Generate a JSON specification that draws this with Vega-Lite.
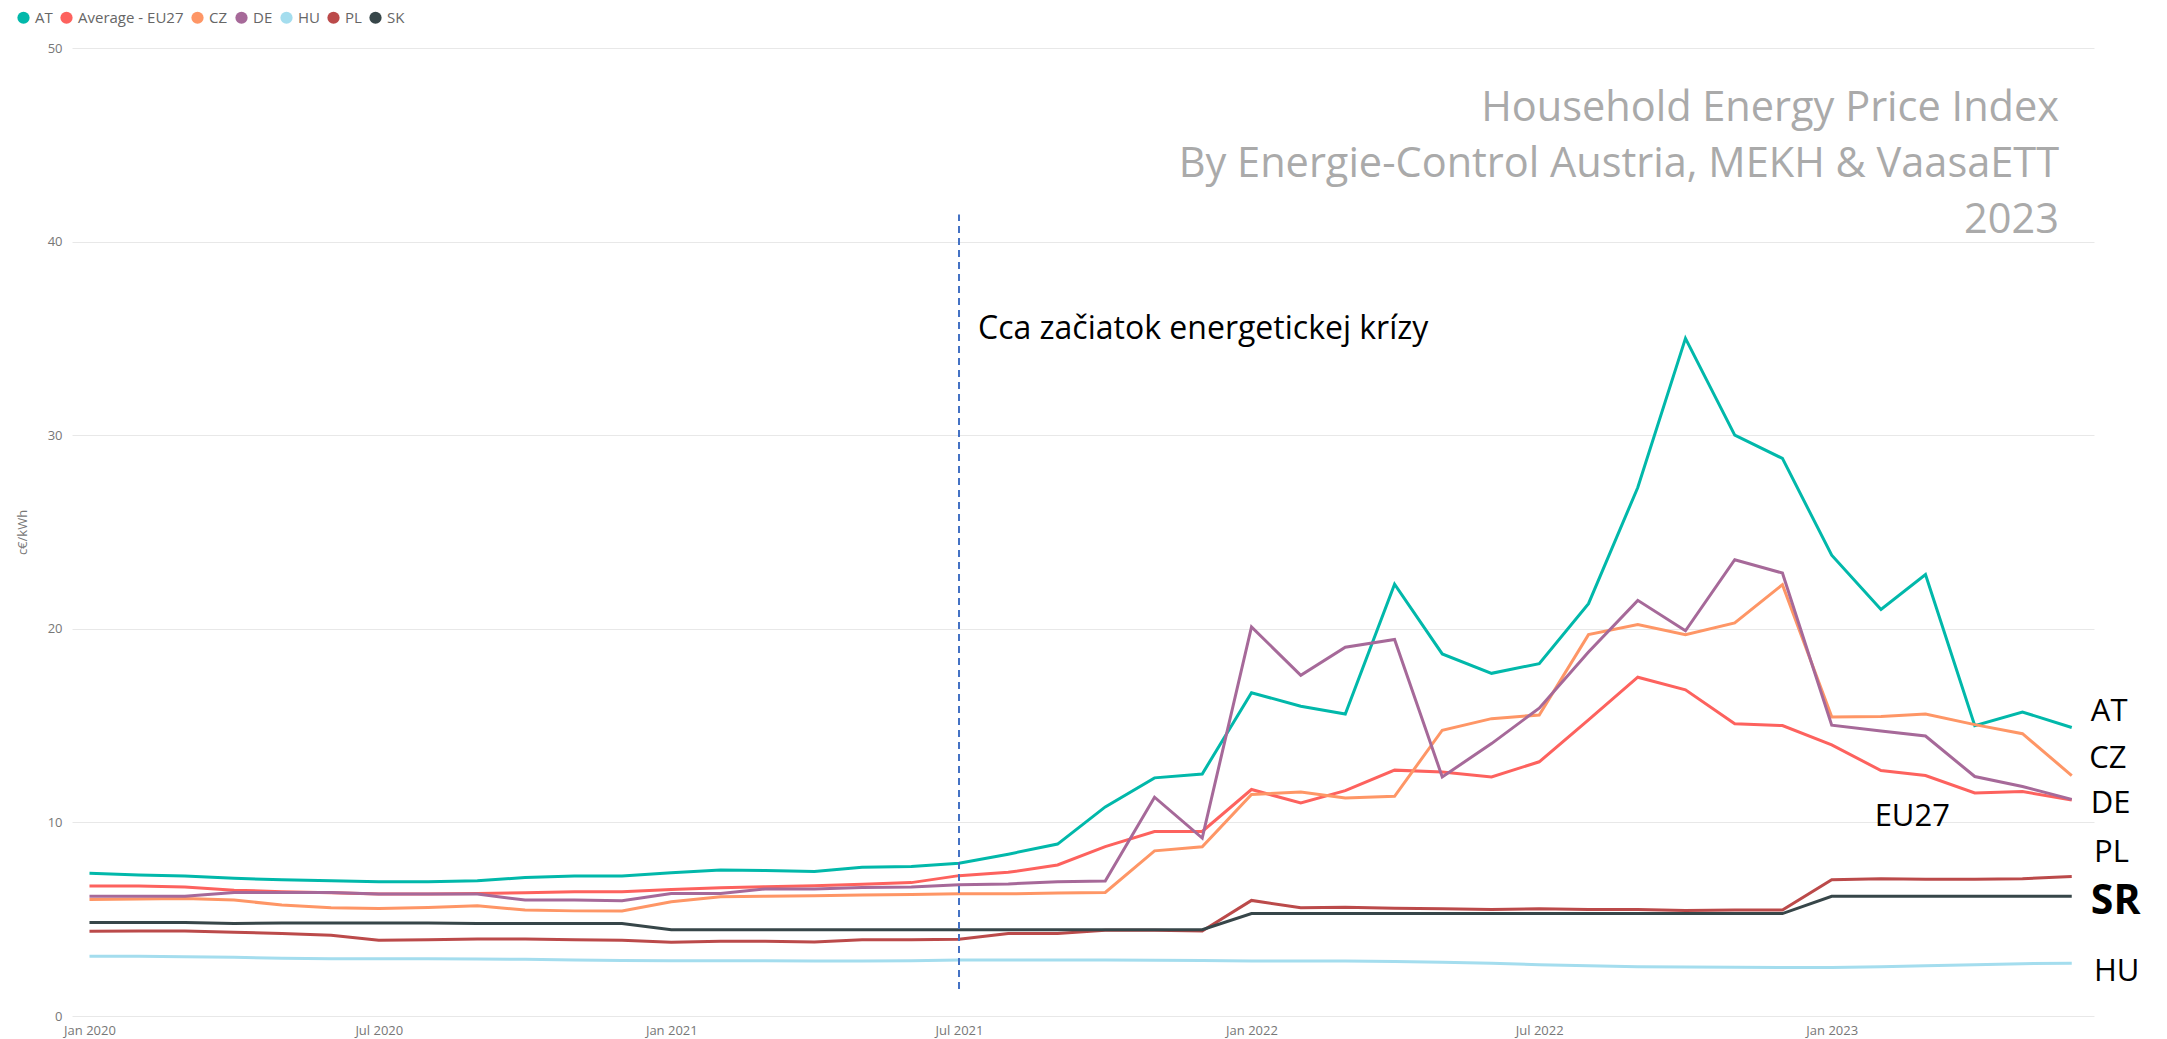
{
  "$schema": "https://vega.github.io/schema/vega-lite/v6.json",
  "width": 2022,
  "height": 968,
  "autosize": {"type": "none"},
  "padding": {"left": 72, "top": 48, "right": 73, "bottom": 23},
  "background": "white",
  "config": {"view": {"stroke": null}, "font": "Open Sans"},
  "title": {
    "text": ["Household Energy Price Index", "By Energie-Control Austria, MEKH & VaasaETT", "2023"],
    "anchor": "end",
    "orient": "top",
    "frame": "group",
    "baseline": "top",
    "offset": 0,
    "dx": -35,
    "dy": 231,
    "fontSize": 41.5,
    "fontWeight": "normal",
    "font": "Open Sans",
    "color": "#AAAAAA",
    "lineHeight": 56
  },
  "datasets": {
    "prices": [
      {"date":"2020-01-01","series":"AT","value":7.37},{"date":"2020-02-01","series":"AT","value":7.28},{"date":"2020-03-01","series":"AT","value":7.23},{"date":"2020-04-01","series":"AT","value":7.11},{"date":"2020-05-01","series":"AT","value":7.04},{"date":"2020-06-01","series":"AT","value":6.99},{"date":"2020-07-01","series":"AT","value":6.94},{"date":"2020-08-01","series":"AT","value":6.94},{"date":"2020-09-01","series":"AT","value":6.99},{"date":"2020-10-01","series":"AT","value":7.15},{"date":"2020-11-01","series":"AT","value":7.23},{"date":"2020-12-01","series":"AT","value":7.23},
      {"date":"2021-01-01","series":"AT","value":7.40},{"date":"2021-02-01","series":"AT","value":7.54},{"date":"2021-03-01","series":"AT","value":7.51},{"date":"2021-04-01","series":"AT","value":7.47},{"date":"2021-05-01","series":"AT","value":7.68},{"date":"2021-06-01","series":"AT","value":7.72},{"date":"2021-07-01","series":"AT","value":7.89},{"date":"2021-08-01","series":"AT","value":8.36},{"date":"2021-09-01","series":"AT","value":8.88},{"date":"2021-10-01","series":"AT","value":10.8},{"date":"2021-11-01","series":"AT","value":12.3},{"date":"2021-12-01","series":"AT","value":12.5},
      {"date":"2022-01-01","series":"AT","value":16.7},{"date":"2022-02-01","series":"AT","value":16.0},{"date":"2022-03-01","series":"AT","value":15.6},{"date":"2022-04-01","series":"AT","value":22.3},{"date":"2022-05-01","series":"AT","value":18.7},{"date":"2022-06-01","series":"AT","value":17.7},{"date":"2022-07-01","series":"AT","value":18.2},{"date":"2022-08-01","series":"AT","value":21.3},{"date":"2022-09-01","series":"AT","value":27.3},{"date":"2022-10-01","series":"AT","value":35.0},{"date":"2022-11-01","series":"AT","value":30.0},{"date":"2022-12-01","series":"AT","value":28.8},
      {"date":"2023-01-01","series":"AT","value":23.8},{"date":"2023-02-01","series":"AT","value":21.0},{"date":"2023-03-01","series":"AT","value":22.8},{"date":"2023-04-01","series":"AT","value":15.0},{"date":"2023-05-01","series":"AT","value":15.7},{"date":"2023-06-01","series":"AT","value":14.9},

      {"date":"2020-01-01","series":"Average - EU27","value":6.71},{"date":"2020-02-01","series":"Average - EU27","value":6.71},{"date":"2020-03-01","series":"Average - EU27","value":6.66},{"date":"2020-04-01","series":"Average - EU27","value":6.5},{"date":"2020-05-01","series":"Average - EU27","value":6.42},{"date":"2020-06-01","series":"Average - EU27","value":6.37},{"date":"2020-07-01","series":"Average - EU27","value":6.3},{"date":"2020-08-01","series":"Average - EU27","value":6.3},{"date":"2020-09-01","series":"Average - EU27","value":6.33},{"date":"2020-10-01","series":"Average - EU27","value":6.37},{"date":"2020-11-01","series":"Average - EU27","value":6.42},{"date":"2020-12-01","series":"Average - EU27","value":6.42},
      {"date":"2021-01-01","series":"Average - EU27","value":6.54},{"date":"2021-02-01","series":"Average - EU27","value":6.63},{"date":"2021-03-01","series":"Average - EU27","value":6.68},{"date":"2021-04-01","series":"Average - EU27","value":6.73},{"date":"2021-05-01","series":"Average - EU27","value":6.8},{"date":"2021-06-01","series":"Average - EU27","value":6.89},{"date":"2021-07-01","series":"Average - EU27","value":7.25},{"date":"2021-08-01","series":"Average - EU27","value":7.42},{"date":"2021-09-01","series":"Average - EU27","value":7.8},{"date":"2021-10-01","series":"Average - EU27","value":8.75},{"date":"2021-11-01","series":"Average - EU27","value":9.53},{"date":"2021-12-01","series":"Average - EU27","value":9.53},
      {"date":"2022-01-01","series":"Average - EU27","value":11.7},{"date":"2022-02-01","series":"Average - EU27","value":11.0},{"date":"2022-03-01","series":"Average - EU27","value":11.64},{"date":"2022-04-01","series":"Average - EU27","value":12.7},{"date":"2022-05-01","series":"Average - EU27","value":12.6},{"date":"2022-06-01","series":"Average - EU27","value":12.35},{"date":"2022-07-01","series":"Average - EU27","value":13.13},{"date":"2022-08-01","series":"Average - EU27","value":15.3},{"date":"2022-09-01","series":"Average - EU27","value":17.5},{"date":"2022-10-01","series":"Average - EU27","value":16.85},{"date":"2022-11-01","series":"Average - EU27","value":15.1},{"date":"2022-12-01","series":"Average - EU27","value":15.0},
      {"date":"2023-01-01","series":"Average - EU27","value":14.0},{"date":"2023-02-01","series":"Average - EU27","value":12.68},{"date":"2023-03-01","series":"Average - EU27","value":12.42},{"date":"2023-04-01","series":"Average - EU27","value":11.52},{"date":"2023-05-01","series":"Average - EU27","value":11.59},{"date":"2023-06-01","series":"Average - EU27","value":11.16},

      {"date":"2020-01-01","series":"CZ","value":6.02},{"date":"2020-02-01","series":"CZ","value":6.04},{"date":"2020-03-01","series":"CZ","value":6.07},{"date":"2020-04-01","series":"CZ","value":5.99},{"date":"2020-05-01","series":"CZ","value":5.73},{"date":"2020-06-01","series":"CZ","value":5.59},{"date":"2020-07-01","series":"CZ","value":5.55},{"date":"2020-08-01","series":"CZ","value":5.6},{"date":"2020-09-01","series":"CZ","value":5.69},{"date":"2020-10-01","series":"CZ","value":5.47},{"date":"2020-11-01","series":"CZ","value":5.43},{"date":"2020-12-01","series":"CZ","value":5.42},
      {"date":"2021-01-01","series":"CZ","value":5.9},{"date":"2021-02-01","series":"CZ","value":6.16},{"date":"2021-03-01","series":"CZ","value":6.19},{"date":"2021-04-01","series":"CZ","value":6.21},{"date":"2021-05-01","series":"CZ","value":6.25},{"date":"2021-06-01","series":"CZ","value":6.28},{"date":"2021-07-01","series":"CZ","value":6.31},{"date":"2021-08-01","series":"CZ","value":6.31},{"date":"2021-09-01","series":"CZ","value":6.35},{"date":"2021-10-01","series":"CZ","value":6.38},{"date":"2021-11-01","series":"CZ","value":8.53},{"date":"2021-12-01","series":"CZ","value":8.74},
      {"date":"2022-01-01","series":"CZ","value":11.44},{"date":"2022-02-01","series":"CZ","value":11.57},{"date":"2022-03-01","series":"CZ","value":11.26},{"date":"2022-04-01","series":"CZ","value":11.35},{"date":"2022-05-01","series":"CZ","value":14.76},{"date":"2022-06-01","series":"CZ","value":15.36},{"date":"2022-07-01","series":"CZ","value":15.55},{"date":"2022-08-01","series":"CZ","value":19.7},{"date":"2022-09-01","series":"CZ","value":20.22},{"date":"2022-10-01","series":"CZ","value":19.7},{"date":"2022-11-01","series":"CZ","value":20.3},{"date":"2022-12-01","series":"CZ","value":22.28},
      {"date":"2023-01-01","series":"CZ","value":15.45},{"date":"2023-02-01","series":"CZ","value":15.47},{"date":"2023-03-01","series":"CZ","value":15.6},{"date":"2023-04-01","series":"CZ","value":15.05},{"date":"2023-05-01","series":"CZ","value":14.58},{"date":"2023-06-01","series":"CZ","value":12.42},

      {"date":"2020-01-01","series":"DE","value":6.19},{"date":"2020-02-01","series":"DE","value":6.19},{"date":"2020-03-01","series":"DE","value":6.19},{"date":"2020-04-01","series":"DE","value":6.38},{"date":"2020-05-01","series":"DE","value":6.38},{"date":"2020-06-01","series":"DE","value":6.38},{"date":"2020-07-01","series":"DE","value":6.3},{"date":"2020-08-01","series":"DE","value":6.3},{"date":"2020-09-01","series":"DE","value":6.3},{"date":"2020-10-01","series":"DE","value":5.99},{"date":"2020-11-01","series":"DE","value":5.99},{"date":"2020-12-01","series":"DE","value":5.95},
      {"date":"2021-01-01","series":"DE","value":6.33},{"date":"2021-02-01","series":"DE","value":6.33},{"date":"2021-03-01","series":"DE","value":6.56},{"date":"2021-04-01","series":"DE","value":6.56},{"date":"2021-05-01","series":"DE","value":6.64},{"date":"2021-06-01","series":"DE","value":6.66},{"date":"2021-07-01","series":"DE","value":6.78},{"date":"2021-08-01","series":"DE","value":6.82},{"date":"2021-09-01","series":"DE","value":6.94},{"date":"2021-10-01","series":"DE","value":6.97},{"date":"2021-11-01","series":"DE","value":11.3},{"date":"2021-12-01","series":"DE","value":9.19},
      {"date":"2022-01-01","series":"DE","value":20.1},{"date":"2022-02-01","series":"DE","value":17.6},{"date":"2022-03-01","series":"DE","value":19.05},{"date":"2022-04-01","series":"DE","value":19.45},{"date":"2022-05-01","series":"DE","value":12.35},{"date":"2022-06-01","series":"DE","value":14.07},{"date":"2022-07-01","series":"DE","value":15.9},{"date":"2022-08-01","series":"DE","value":18.8},{"date":"2022-09-01","series":"DE","value":21.47},{"date":"2022-10-01","series":"DE","value":19.9},{"date":"2022-11-01","series":"DE","value":23.57},{"date":"2022-12-01","series":"DE","value":22.88},
      {"date":"2023-01-01","series":"DE","value":15.02},{"date":"2023-02-01","series":"DE","value":14.72},{"date":"2023-03-01","series":"DE","value":14.46},{"date":"2023-04-01","series":"DE","value":12.37},{"date":"2023-05-01","series":"DE","value":11.85},{"date":"2023-06-01","series":"DE","value":11.19},

      {"date":"2020-01-01","series":"HU","value":3.08},{"date":"2020-02-01","series":"HU","value":3.08},{"date":"2020-03-01","series":"HU","value":3.06},{"date":"2020-04-01","series":"HU","value":3.03},{"date":"2020-05-01","series":"HU","value":2.98},{"date":"2020-06-01","series":"HU","value":2.96},{"date":"2020-07-01","series":"HU","value":2.96},{"date":"2020-08-01","series":"HU","value":2.96},{"date":"2020-09-01","series":"HU","value":2.94},{"date":"2020-10-01","series":"HU","value":2.93},{"date":"2020-11-01","series":"HU","value":2.89},{"date":"2020-12-01","series":"HU","value":2.87},
      {"date":"2021-01-01","series":"HU","value":2.85},{"date":"2021-02-01","series":"HU","value":2.85},{"date":"2021-03-01","series":"HU","value":2.85},{"date":"2021-04-01","series":"HU","value":2.84},{"date":"2021-05-01","series":"HU","value":2.84},{"date":"2021-06-01","series":"HU","value":2.85},{"date":"2021-07-01","series":"HU","value":2.89},{"date":"2021-08-01","series":"HU","value":2.89},{"date":"2021-09-01","series":"HU","value":2.89},{"date":"2021-10-01","series":"HU","value":2.89},{"date":"2021-11-01","series":"HU","value":2.88},{"date":"2021-12-01","series":"HU","value":2.87},
      {"date":"2022-01-01","series":"HU","value":2.84},{"date":"2022-02-01","series":"HU","value":2.84},{"date":"2022-03-01","series":"HU","value":2.84},{"date":"2022-04-01","series":"HU","value":2.82},{"date":"2022-05-01","series":"HU","value":2.78},{"date":"2022-06-01","series":"HU","value":2.72},{"date":"2022-07-01","series":"HU","value":2.65},{"date":"2022-08-01","series":"HU","value":2.59},{"date":"2022-09-01","series":"HU","value":2.55},{"date":"2022-10-01","series":"HU","value":2.53},{"date":"2022-11-01","series":"HU","value":2.52},{"date":"2022-12-01","series":"HU","value":2.5},
      {"date":"2023-01-01","series":"HU","value":2.5},{"date":"2023-02-01","series":"HU","value":2.55},{"date":"2023-03-01","series":"HU","value":2.6},{"date":"2023-04-01","series":"HU","value":2.65},{"date":"2023-05-01","series":"HU","value":2.7},{"date":"2023-06-01","series":"HU","value":2.73},

      {"date":"2020-01-01","series":"PL","value":4.38},{"date":"2020-02-01","series":"PL","value":4.39},{"date":"2020-03-01","series":"PL","value":4.39},{"date":"2020-04-01","series":"PL","value":4.33},{"date":"2020-05-01","series":"PL","value":4.26},{"date":"2020-06-01","series":"PL","value":4.17},{"date":"2020-07-01","series":"PL","value":3.91},{"date":"2020-08-01","series":"PL","value":3.94},{"date":"2020-09-01","series":"PL","value":3.98},{"date":"2020-10-01","series":"PL","value":3.98},{"date":"2020-11-01","series":"PL","value":3.94},{"date":"2020-12-01","series":"PL","value":3.91},
      {"date":"2021-01-01","series":"PL","value":3.81},{"date":"2021-02-01","series":"PL","value":3.86},{"date":"2021-03-01","series":"PL","value":3.86},{"date":"2021-04-01","series":"PL","value":3.82},{"date":"2021-05-01","series":"PL","value":3.94},{"date":"2021-06-01","series":"PL","value":3.94},{"date":"2021-07-01","series":"PL","value":3.96},{"date":"2021-08-01","series":"PL","value":4.26},{"date":"2021-09-01","series":"PL","value":4.26},{"date":"2021-10-01","series":"PL","value":4.43},{"date":"2021-11-01","series":"PL","value":4.43},{"date":"2021-12-01","series":"PL","value":4.39},
      {"date":"2022-01-01","series":"PL","value":5.97},{"date":"2022-02-01","series":"PL","value":5.59},{"date":"2022-03-01","series":"PL","value":5.62},{"date":"2022-04-01","series":"PL","value":5.57},{"date":"2022-05-01","series":"PL","value":5.54},{"date":"2022-06-01","series":"PL","value":5.5},{"date":"2022-07-01","series":"PL","value":5.54},{"date":"2022-08-01","series":"PL","value":5.5},{"date":"2022-09-01","series":"PL","value":5.5},{"date":"2022-10-01","series":"PL","value":5.45},{"date":"2022-11-01","series":"PL","value":5.47},{"date":"2022-12-01","series":"PL","value":5.48},
      {"date":"2023-01-01","series":"PL","value":7.04},{"date":"2023-02-01","series":"PL","value":7.09},{"date":"2023-03-01","series":"PL","value":7.06},{"date":"2023-04-01","series":"PL","value":7.06},{"date":"2023-05-01","series":"PL","value":7.09},{"date":"2023-06-01","series":"PL","value":7.2},

      {"date":"2020-01-01","series":"SK","value":4.83},{"date":"2020-02-01","series":"SK","value":4.83},{"date":"2020-03-01","series":"SK","value":4.83},{"date":"2020-04-01","series":"SK","value":4.78},{"date":"2020-05-01","series":"SK","value":4.8},{"date":"2020-06-01","series":"SK","value":4.8},{"date":"2020-07-01","series":"SK","value":4.8},{"date":"2020-08-01","series":"SK","value":4.8},{"date":"2020-09-01","series":"SK","value":4.78},{"date":"2020-10-01","series":"SK","value":4.78},{"date":"2020-11-01","series":"SK","value":4.78},{"date":"2020-12-01","series":"SK","value":4.78},
      {"date":"2021-01-01","series":"SK","value":4.46},{"date":"2021-02-01","series":"SK","value":4.46},{"date":"2021-03-01","series":"SK","value":4.46},{"date":"2021-04-01","series":"SK","value":4.46},{"date":"2021-05-01","series":"SK","value":4.46},{"date":"2021-06-01","series":"SK","value":4.46},{"date":"2021-07-01","series":"SK","value":4.46},{"date":"2021-08-01","series":"SK","value":4.46},{"date":"2021-09-01","series":"SK","value":4.46},{"date":"2021-10-01","series":"SK","value":4.46},{"date":"2021-11-01","series":"SK","value":4.46},{"date":"2021-12-01","series":"SK","value":4.46},
      {"date":"2022-01-01","series":"SK","value":5.29},{"date":"2022-02-01","series":"SK","value":5.29},{"date":"2022-03-01","series":"SK","value":5.29},{"date":"2022-04-01","series":"SK","value":5.29},{"date":"2022-05-01","series":"SK","value":5.29},{"date":"2022-06-01","series":"SK","value":5.29},{"date":"2022-07-01","series":"SK","value":5.29},{"date":"2022-08-01","series":"SK","value":5.29},{"date":"2022-09-01","series":"SK","value":5.29},{"date":"2022-10-01","series":"SK","value":5.29},{"date":"2022-11-01","series":"SK","value":5.29},{"date":"2022-12-01","series":"SK","value":5.29},
      {"date":"2023-01-01","series":"SK","value":6.18},{"date":"2023-02-01","series":"SK","value":6.18},{"date":"2023-03-01","series":"SK","value":6.18},{"date":"2023-04-01","series":"SK","value":6.18},{"date":"2023-05-01","series":"SK","value":6.18},{"date":"2023-06-01","series":"SK","value":6.18}
    ],
    "marker": [{"date": "2021-07-01", "value": 1.4, "value2": 41.4}],
    "note": [{"date": "2021-07-01", "value": 35.5, "note": "Cca začiatok energetickej krízy"}],
    "labels": [
      {"date": "2023-06-13", "value": 15.72, "label": "AT"},
      {"date": "2023-06-12", "value": 13.29, "label": "CZ"},
      {"date": "2023-06-13", "value": 10.93, "label": "DE"},
      {"date": "2023-01-28", "value": 10.28, "label": "EU27"},
      {"date": "2023-06-15", "value": 8.43, "label": "PL"},
      {"date": "2023-06-13", "value": 5.87, "label": "SR"},
      {"date": "2023-06-15", "value": 2.29, "label": "HU"}
    ]
  },
  "layer": [
    {
      "data": {"name": "prices"},
      "mark": {"type": "line", "strokeWidth": 3, "interpolate": "linear"},
      "encoding": {
        "x": {
          "field": "date", "type": "temporal",
          "scale": {"type": "utc", "domain": [{"year": 2019, "month": 12, "date": 21, "utc": true}, {"year": 2023, "month": 6, "date": 15, "utc": true}]},
          "axis": {
            "title": null,
            "format": "%b %Y",
            "values": [
              {"year": 2020, "month": 1, "date": 1, "utc": true},
              {"year": 2020, "month": 7, "date": 1, "utc": true},
              {"year": 2021, "month": 1, "date": 1, "utc": true},
              {"year": 2021, "month": 7, "date": 1, "utc": true},
              {"year": 2022, "month": 1, "date": 1, "utc": true},
              {"year": 2022, "month": 7, "date": 1, "utc": true},
              {"year": 2023, "month": 1, "date": 1, "utc": true}
            ],
            "grid": false, "domain": false, "ticks": false,
            "labelFontSize": 13, "labelColor": "#777777", "labelPadding": 8, "labelFont": "Open Sans"
          }
        },
        "y": {
          "field": "value", "type": "quantitative",
          "scale": {"domain": [0, 50], "nice": false},
          "axis": {
            "title": "c€/kWh", "titleFontSize": 13, "titleColor": "#777777", "titleFontWeight": "normal", "titlePadding": 18, "titleFont": "Open Sans",
            "values": [0, 10, 20, 30, 40, 50],
            "domain": false, "ticks": false, "gridColor": "#E8E8E8", "gridWidth": 1,
            "labelFontSize": 13, "labelColor": "#777777", "labelPadding": 10, "labelFont": "Open Sans"
          }
        },
        "color": {
          "field": "series", "type": "nominal",
          "scale": {
            "domain": ["AT", "Average - EU27", "CZ", "DE", "HU", "PL", "SK"],
            "range": ["#01B8AA", "#FD625E", "#FE9666", "#A66999", "#A4DDEE", "#BB4A4A", "#374649"]
          },
          "legend": {
            "orient": "none", "legendX": -56, "legendY": -38, "direction": "horizontal",
            "title": null, "symbolType": "circle", "symbolSize": 150,
            "labelFontSize": 15, "labelColor": "#666666", "labelFont": "Open Sans",
            "columnPadding": 6, "labelOffset": 4, "padding": 0,
            "encode": {"symbols": {"update": {"fill": {"scale": "color", "field": "value"}, "strokeWidth": {"value": 0}, "opacity": {"value": 1}}}}
          }
        }
      }
    },
    {
      "data": {"name": "marker"},
      "mark": {"type": "rule", "strokeDash": [7, 5], "strokeWidth": 2, "color": "#4472C4"},
      "encoding": {
        "x": {"field": "date", "type": "temporal"},
        "y": {"field": "value", "type": "quantitative"},
        "y2": {"field": "value2"}
      }
    },
    {
      "data": {"name": "note"},
      "mark": {"type": "text", "align": "left", "baseline": "middle", "fontSize": 32, "dx": 19, "color": "#000000", "font": "Open Sans"},
      "encoding": {
        "x": {"field": "date", "type": "temporal"},
        "y": {"field": "value", "type": "quantitative"},
        "text": {"field": "note"}
      }
    },
    {
      "data": {"name": "labels"},
      "transform": [{"filter": "datum.label !== 'SR'"}],
      "mark": {"type": "text", "align": "left", "baseline": "middle", "fontSize": 31, "color": "#000000", "font": "Open Sans"},
      "encoding": {
        "x": {"field": "date", "type": "temporal"},
        "y": {"field": "value", "type": "quantitative"},
        "text": {"field": "label"}
      }
    },
    {
      "data": {"name": "labels"},
      "transform": [{"filter": "datum.label === 'SR'"}],
      "mark": {"type": "text", "align": "left", "baseline": "middle", "fontSize": 41, "fontWeight": "bold", "color": "#000000", "font": "Open Sans"},
      "encoding": {
        "x": {"field": "date", "type": "temporal"},
        "y": {"field": "value", "type": "quantitative"},
        "text": {"field": "label"}
      }
    }
  ]
}
